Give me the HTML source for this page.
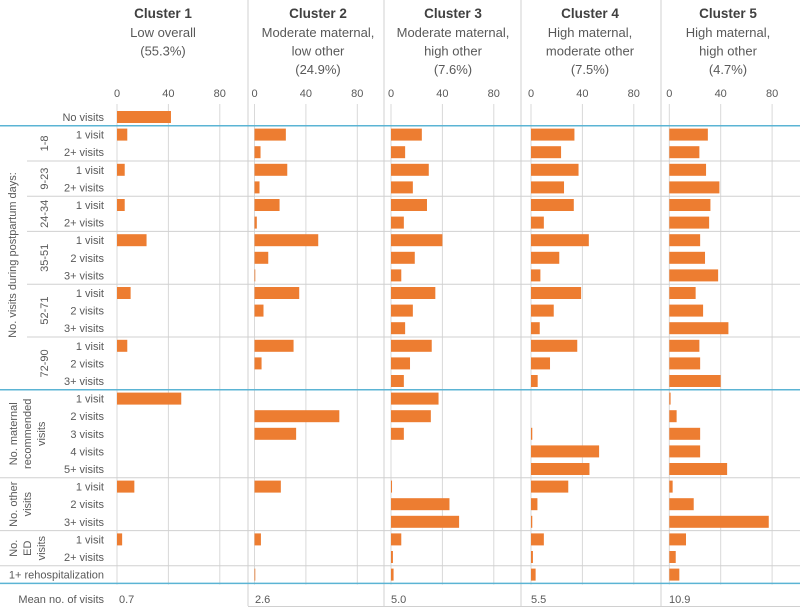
<!DOCTYPE html>
<html><head><meta charset="utf-8">
<style>
html,body{margin:0;padding:0;background:#fff;}
svg{display:block;font-family:"Liberation Sans",Arial,sans-serif;}
</style></head>
<body>
<svg id="chart" width="800" height="609" viewBox="0 0 800 609" xmlns="http://www.w3.org/2000/svg"></svg>
<script>
const rowLabels = ["No visits","1 visit","2+ visits","1 visit","2+ visits","1 visit","2+ visits","1 visit","2 visits","3+ visits","1 visit","2 visits","3+ visits","1 visit","2 visits","3+ visits","1 visit","2 visits","3 visits","4 visits","5+ visits","1 visit","2 visits","3+ visits","1 visit","2+ visits","1+ rehospitalization"];
const clusterTitles = ["Cluster 1","Cluster 2","Cluster 3","Cluster 4","Cluster 5"];
const clusterSubtitles = [["Low overall","(55.3%)"],["Moderate maternal,","low other","(24.9%)"],["Moderate maternal,","high other","(7.6%)"],["High maternal,","moderate other","(7.5%)"],["High maternal,","high other","(4.7%)"]];
const meanVisits = ["0.7","2.6","5.0","5.5","10.9"];
const tickValues = [0,40,80];
const cluster1 = [42,8,0,6,0,6,0,23,0,0,10.6,0,0,8,0,0,50,0,0,0,0,13.5,0,0,4,0,0];
const cluster2 = [0,24.4,4.7,25.5,3.9,19.5,1.8,49.6,10.7,0.5,34.8,7,0,30.4,5.5,0,0,66,32.4,0,0,20.5,0,0,5,0,0.5];
const cluster3 = [0,24,11,29.4,17,28,10,40,18.5,8,34.5,17,11,31.7,14.8,10,37,31,10,0,0,0.8,45.5,53,8,1.5,2];
const cluster4 = [0,33.8,23.4,37,25.7,33.3,10,45,22,7.3,39,17.7,6.8,36,14.8,5.2,0,0,1,53,45.5,29,5,1,10,1.5,3.6];
const cluster5 = [0,30,23.4,28.6,39,32,31,24,27.8,38,20.5,26.3,46,23.4,24,40,1,5.7,24,24,45,2.6,19,77.4,13,5,7.8];
const seriesList = [cluster1,cluster2,cluster3,cluster4,cluster5];

const NS="http://www.w3.org/2000/svg";
const svg=document.getElementById('chart');
function mk(tag,attrs,parent){const e=document.createElementNS(NS,tag);for(const k in attrs)e.setAttribute(k,attrs[k]);(parent||svg).appendChild(e);return e;}
const zeros=[117,254.5,391,531,669.3];
const pxPerUnit=1.285;
function xScale(c,v){return zeros[c]+v*pxPerUnit;}
function yRow(i){return 117+i*17.6;}
const dividers=[248,384,521,661];
const TXT="#595959";

// vertical gridlines
for(let c=0;c<5;c++){
  tickValues.forEach(t=>{
    const l=mk('line',{x1:xScale(c,t),x2:xScale(c,t),y1:104,y2:584.6,stroke:"#d9d9d9","stroke-width":1});
    
    
    const tx=mk('text',{x:xScale(c,t),y:97,"font-size":11,fill:TXT,"text-anchor":"middle"});
    tx.textContent=t;
    
    
  });
}
// dividers
dividers.forEach(x=>{
  const l=mk('line',{x1:x,x2:x,y1:0,y2:606,stroke:"#d0d0d0","stroke-width":1});
  
  
});
mk('line',{x1:248,x2:800,y1:606.5,y2:606.5,stroke:"#d0d0d0","stroke-width":1});
// horizontal separators
const graySeps=[[2,27],[4,27],[6,27],[9,27],[12,27],[20,0],[23,0],[25,0]];
graySeps.forEach(([i,x0])=>{
  const y=yRow(i)+8.8;
  const l=mk('line',{x1:x0,x2:800,y1:y,y2:y,stroke:"#d0d0d0","stroke-width":1});
  
  
});
[0,15,26].forEach(i=>{
  const y=yRow(i)+8.8;
  const l=mk('line',{x1:0,x2:800,y1:y,y2:y,stroke:"#5bb4d4","stroke-width":1.5});
  
  
});
// bars
seriesList.forEach((s,c)=>{
  s.forEach((v,i)=>{
    if(v<=0)return;
    const b=mk('rect',{x:xScale(c,0),y:yRow(i)-6,width:Math.max(v*pxPerUnit,0.8),height:12,fill:"#ed7d31"});
    
    
  });
});
// row labels
rowLabels.forEach((r,i)=>{
  const t=mk('text',{x:104,y:yRow(i)+4,"font-size":11,fill:TXT,"text-anchor":"end"});
  t.textContent=r;
  
  
});
// headers
const centers=[163,318,453,590,728];
clusterTitles.forEach((ti,c)=>{
  const t=mk('text',{x:centers[c],y:18,"font-size":13.5,"font-weight":"bold",fill:"#404040","text-anchor":"middle"});
  t.textContent=ti;
  
  
  clusterSubtitles[c].forEach((s,k)=>{
    const st=mk('text',{x:centers[c],y:37+k*18.5,"font-size":13,fill:TXT,"text-anchor":"middle"});
    st.textContent=s;
    
    
  });
  const m=mk('text',{x:[119,255,391,531,669][c],y:603,"font-size":11,fill:TXT});
  m.textContent=meanVisits[c];
  
  
});
const ml=mk('text',{x:104,y:603,"font-size":11,fill:TXT,"text-anchor":"end"});
ml.textContent="Mean no. of visits";


// rotated group labels
function rot(lines,xs,cy,name){
  lines.forEach((ln,k)=>{
    const t=mk('text',{x:0,y:0,"font-size":11,fill:TXT,"text-anchor":"middle",transform:`translate(${xs[k]},${cy}) rotate(-90)`});
    t.textContent=ln;
    
    
  });
}
rot(["No. visits during postpartum days:"],[16],255,'postpartum-group-label');
const pp=[["1-8",1,2],["9-23",3,4],["24-34",5,6],["35-51",7,9],["52-71",10,12],["72-90",13,15]];
pp.forEach(([lab,a,b])=>rot([lab],[48],(yRow(a)+yRow(b))/2,'day-range-label'));
rot(["No. maternal","recommended","visits"],[17,31,45],yRow(18),'maternal-group-label');
rot(["No. other","visits"],[17,31],yRow(22),'other-group-label');
rot(["No.","ED","visits"],[17,31,45],(yRow(24)+yRow(25))/2,'ed-group-label');
</script>
</body></html>
